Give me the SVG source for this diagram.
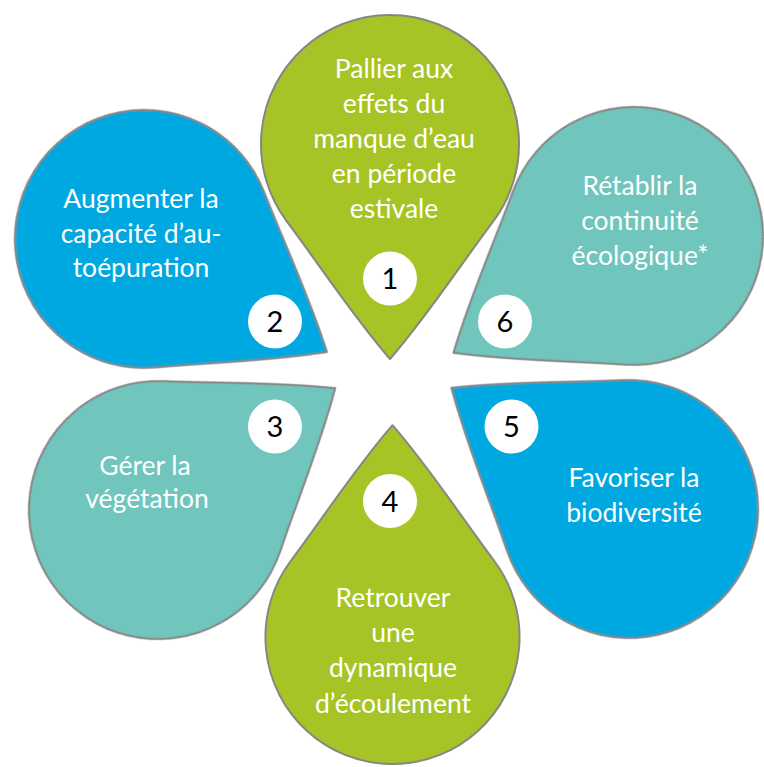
<svg xmlns="http://www.w3.org/2000/svg" width="764" height="767" viewBox="0 0 764 767">
<defs>
  <path id="drop" d="M0,215 C-37.4,172 -69,123 -103.2,77.4 A129,129 0 1 1 103.2,77.4 C69,123 37.4,172 0,215 Z"/>
  <filter id="soft" x="-5%" y="-5%" width="110%" height="110%"><feGaussianBlur stdDeviation="0.5"/></filter>
</defs>
<style>
  .petal{stroke:#868686;stroke-width:2;stroke-linejoin:round;filter:url(#soft)}
  .green{fill:#A6C425}
  .blue{fill:#00A8E1}
  .teal{fill:#6FC5BC}
  .lbl{font-family:Lato,"Open Sans","Liberation Sans",sans-serif;font-size:26.5px;font-weight:400;fill:#ffffff;text-anchor:middle}
  .badge{fill:#ffffff}
  .num{font-family:Lato,"Liberation Sans",sans-serif;font-size:29px;font-weight:400;fill:#000000;text-anchor:middle}
</style>
<g id="petal-1">
  <use href="#drop" class="petal green" transform="translate(390,144)"/>
  <text class="lbl" x="394" y="78">Pallier aux</text>
  <text class="lbl" x="394" y="113">effets du</text>
  <text class="lbl" x="394" y="148">manque d’eau</text>
  <text class="lbl" x="394" y="183">en période</text>
  <text class="lbl" x="394" y="218">estivale</text>
  <circle class="badge" cx="390" cy="278.5" r="27"/>
  <text class="num" x="390" y="289">1</text>
</g>
<g id="petal-2">
  <use href="#drop" class="petal blue" transform="translate(144,239) rotate(-58.3)"/>
  <text class="lbl" x="141" y="208">Augmenter la</text>
  <text class="lbl" x="141" y="243">capacité d’au-</text>
  <text class="lbl" x="141" y="277">toépuration</text>
  <circle class="badge" cx="275" cy="321.5" r="27"/>
  <text class="num" x="275" y="332">2</text>
</g>
<g id="petal-3">
  <use href="#drop" class="petal teal" transform="translate(158,510) rotate(-124.5)"/>
  <text class="lbl" x="145" y="475">Gérer la</text>
  <text class="lbl" x="147" y="508">végétation</text>
  <circle class="badge" cx="275" cy="426.5" r="27"/>
  <text class="num" x="275" y="437">3</text>
</g>
<g id="petal-4">
  <use href="#drop" class="petal green" transform="translate(392.5,637) rotate(180) scale(0.985)"/>
  <circle class="badge" cx="390" cy="501" r="27"/>
  <text class="num" x="390" y="511.5">4</text>
  <text class="lbl" x="393" y="607">Retrouver</text>
  <text class="lbl" x="393" y="642">une</text>
  <text class="lbl" x="393" y="677">dynamique</text>
  <text class="lbl" x="393" y="713">d’écoulement</text>
</g>
<g id="petal-5">
  <use href="#drop" class="petal blue" transform="translate(629,509) rotate(124.3)"/>
  <circle class="badge" cx="511.5" cy="426.5" r="27"/>
  <text class="num" x="511.5" y="437">5</text>
  <text class="lbl" x="634" y="487">Favoriser la</text>
  <text class="lbl" x="634" y="522">biodiversité</text>
</g>
<g id="petal-6">
  <use href="#drop" class="petal teal" transform="translate(634,236) rotate(57.1)"/>
  <text class="lbl" x="640" y="195">Rétablir la</text>
  <text class="lbl" x="640" y="230">continuité</text>
  <text class="lbl" x="640" y="265">écologique*</text>
  <circle class="badge" cx="505" cy="321.5" r="27"/>
  <text class="num" x="505" y="332">6</text>
</g>
</svg>
